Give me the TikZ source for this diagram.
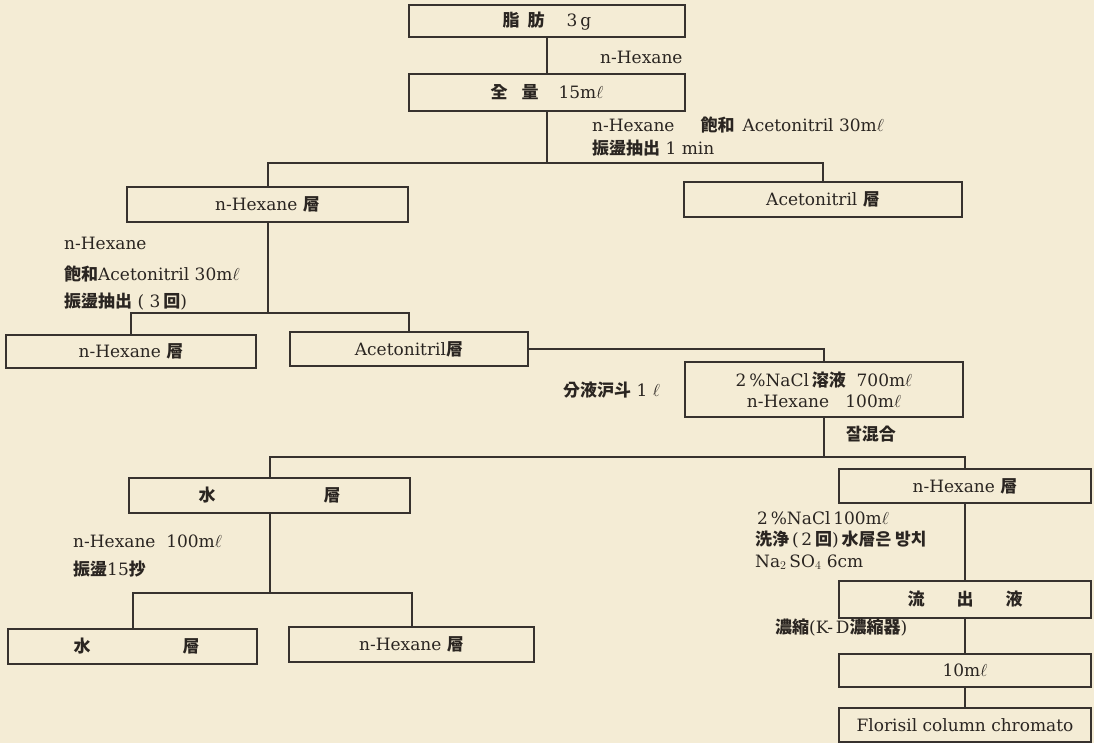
\documentclass[tikz,border=0pt]{standalone}
\usepackage{fontspec}
\setmainfont{DejaVu Serif}
\newfontfamily\cjk{Noto Sans CJK KR}
\newcommand{\kr}[1]{{\cjk\bfseries #1}}
\definecolor{paper}{RGB}{244,236,213}
\definecolor{ink}{RGB}{42,37,33}
\definecolor{wire}{RGB}{55,50,46}
\begin{document}
\begin{tikzpicture}[x=1pt,y=-1pt,
  every node/.style={text=ink, font=\fontsize{17}{21}\selectfont},
  box/.style={draw=wire, line width=2.4pt, inner sep=0pt, align=center},
  conn/.style={draw=wire, line width=2pt},
  lab/.style={anchor=west, inner sep=0pt, align=left}]
\fill[paper] (0,0) rectangle (1094,743);
\useasboundingbox (0,0) rectangle (1094,743);

% boxes
\node[box, minimum width=276, minimum height=32] (b1) at (547,21) {\kr{脂}\hspace{8pt}\kr{肪}\hspace{22pt}3\,g};
\node[box, minimum width=276, minimum height=37] (b2) at (547,92.5) {\kr{全}\hspace{14pt}\kr{量}\hspace{20pt}15m$\ell$};
\node[box, minimum width=281, minimum height=35] (b3) at (267.5,204.5) {n-Hexane \kr{層}};
\node[box, minimum width=278, minimum height=35] (b4) at (823,199.5) {Acetonitril \kr{層}};
\node[box, minimum width=250, minimum height=33] (b5) at (131,351.5) {n-Hexane \kr{層}};
\node[box, minimum width=238, minimum height=34] (b6) at (409,349) {Acetonitril\kr{層}};
\node[box, minimum width=278, minimum height=55] (b7) at (824,389.5) {2\,\%NaCl\,\kr{溶液}\ \ 700m$\ell$\\n-Hexane\ \ \ 100m$\ell$};
\node[box, minimum width=281, minimum height=35] (b8) at (269.5,495.5) {\kr{水}\hspace{108pt}\kr{層}};
\node[box, minimum width=252, minimum height=34] (b9) at (965,486) {n-Hexane \kr{層}};
\node[box, minimum width=249, minimum height=35] (b10) at (132.5,646.5) {\hspace{8pt}\kr{水}\hspace{92pt}\kr{層}};
\node[box, minimum width=245, minimum height=35] (b11) at (411.5,644.5) {n-Hexane \kr{層}};
\node[box, minimum width=252, minimum height=37] (b12) at (965,599.5) {\kr{流}\hspace{32pt}\kr{出}\hspace{32pt}\kr{液}};
\node[box, minimum width=252, minimum height=33] (b13) at (965,670.5) {10m$\ell$};
\node[box, minimum width=252, minimum height=34] (b14) at (965,725) {Florisil column chromato};

% junctions
\coordinate (j1) at (547,163);
\coordinate (j2) at (267.5,313);
\coordinate (j3) at (824,457);
\coordinate (j4) at (269.5,593);

% connectors
\draw[conn] (b1) -- (b2);
\draw[conn] (b2) -- (j1);
\draw[conn] (b3.north) |- (j1) -| (b4.north);
\draw[conn] (b3) -- (j2);
\draw[conn] (b5.north) |- (j2) -| (b6.north);
\draw[conn] (b6.east) -| (b7.north);
\draw[conn] (b7) -- (j3);
\draw[conn] (b8.north) |- (j3) -| (b9.north);
\draw[conn] (b8) -- (j4);
\draw[conn] (b10.north) |- (j4) -| (b11.north);
\draw[conn] (b9) -- (b12);
\draw[conn] (b12) -- (b13);
\draw[conn] (b13) -- (b14);

% labels
\node[lab] (l1) at (600,57) {n-Hexane};
\node[lab] (l2) at (592,125) {n-Hexane\hspace{26pt}\kr{飽和}\hspace{8pt}Acetonitril 30m$\ell$};
\node[lab] (l3) at (592,148) {\kr{振盪抽出} 1 min};
\node[lab] (l4) at (64,243) {n-Hexane};
\node[lab] (l5) at (64,274) {\kr{飽和}Acetonitril 30m$\ell$};
\node[lab] (l6) at (64,302) {\kr{振盪抽出}\ ( 3\,\kr{回})};
\node[lab] (l7) at (563,390) {\kr{分液沪斗} 1 $\ell$};
\node[lab] (l8) at (846,434) {\kr{잘混合}};
\node[lab] (l9) at (73,541) {n-Hexane\ \ 100m$\ell$};
\node[lab] (l10) at (73,569) {\kr{振盪}15\kr{抄}};
\node[lab] (l11) at (757,518) {2\,\%NaCl\,100m$\ell$};
\node[lab] (l12) at (755,540) {\kr{洗浄}\,(\,2\,\kr{回})\,\kr{水層은\ 방치}};
\node[lab] (l13) at (755,562) {Na$_2$\,SO$_4$ 6cm};
\node[lab] (l14) at (775,628) {\kr{濃縮}(K-\,D\kr{濃縮器})};
\end{tikzpicture}
\end{document}
